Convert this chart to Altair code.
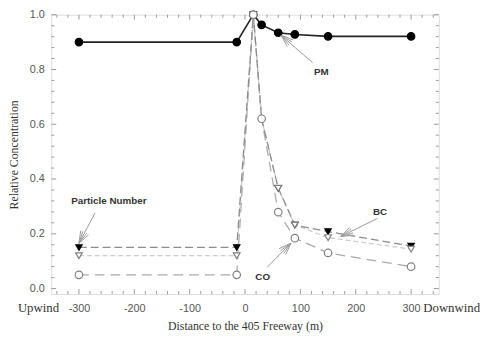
import altair as alt
import pandas as pd
import math

# ---- data ----
x_pos = [-300, -15, 15, 30, 60, 90, 150, 300]
pm = [0.90, 0.90, 1.0, 0.963, 0.934, 0.928, 0.921, 0.921]
pn = [0.15, 0.15, 1.0, 0.62, 0.366, 0.232, 0.208, 0.155]
bc = [0.12, 0.12, 1.0, 0.62, 0.366, 0.232, 0.186, 0.144]
co = [0.05, 0.05, 1.0, 0.62, 0.279, 0.184, 0.130, 0.080]
pm_mark = [True] * 8
pn_mark = [True, True, True, False, True, True, True, True]
bc_mark = [True, True, True, False, True, True, True, True]
co_mark = [True] * 8

x_labels = [-300, -200, -100, 0, 100, 200, 300]
y_labels = [0.0, 0.2, 0.4, 0.6, 0.8, 1.0]
x_domain = [-350, 350]
y_domain = [-0.02, 1.0]

ann_text = ["PM", "BC", "CO", "Particle Number"]
ann_tx = [138, 244, 32, -246]
ann_ty = [0.79, 0.28, 0.042, 0.32]
arr_x1 = [122, 239, 40, -271]
arr_y1 = [0.825, 0.256, 0.078, 0.276]
arr_x2 = [65, 173, 83, -300]
arr_y2 = [0.925, 0.19, 0.166, 0.165]

W, H = 394, 284
xs = alt.Scale(domain=x_domain, nice=False, zero=False)
ys = alt.Scale(domain=y_domain, nice=False, zero=False)

def px(x):
    return (x - x_domain[0]) / (x_domain[1] - x_domain[0]) * W

def py(y):
    return (y_domain[1] - y) / (y_domain[1] - y_domain[0]) * H

def dx(p):
    return p / W * (x_domain[1] - x_domain[0]) + x_domain[0]

def dy(p):
    return y_domain[1] - p / H * (y_domain[1] - y_domain[0])

def series_df(vals, marks):
    return pd.DataFrame({"x": x_pos, "y": vals, "m": marks})

X = alt.X("x:Q", scale=xs, axis=alt.Axis(
    values=x_labels, labelExpr="'' + datum.value", ticks=False, domain=False, grid=False,
    labelFont="Liberation Sans", labelFontSize=11, labelColor="#555", labelPadding=9,
    title="Distance to the 405 Freeway (m)", titleFont="Liberation Serif", titleFontSize=12,
    titleFontWeight="normal", titleColor="#333", titlePadding=7))
Y = alt.Y("y:Q", scale=ys, axis=alt.Axis(
    values=y_labels, format=".1f", ticks=False, domain=False, grid=False,
    labelFont="Liberation Sans", labelFontSize=11, labelColor="#555", labelPadding=7,
    title="Relative Concentration", titleFont="Liberation Serif", titleFontSize=12,
    titleFontWeight="normal", titleColor="#333", titlePadding=9))

def line(vals, marks, color, dash, width):
    kw = dict(color=color, strokeWidth=width)
    if dash:
        kw["strokeDash"] = dash
    return alt.Chart(series_df(vals, marks)).mark_line(**kw).encode(x=X, y=Y)

def pts(vals, marks, shape, size, fill, stroke):
    return alt.Chart(series_df(vals, marks)).transform_filter("datum.m").mark_point(
        shape=shape, filled=True, size=size, fill=fill, stroke=stroke, strokeWidth=1.2,
        opacity=1).encode(x=alt.X("x:Q", scale=xs), y=alt.Y("y:Q", scale=ys))

layers = [
    line(co, co_mark, "#aaaaaa", [10, 6], 1.3),
    line(bc, bc_mark, "#cccccc", [5, 3], 1.3),
    line(pn, pn_mark, "#8c8c8c", [8, 4], 1.3),
    line(pm, pm_mark, "#222222", None, 1.6),
    pts(pn, pn_mark, "triangle-down", 42, "#000", "#000"),
    pts(bc, bc_mark, "triangle-down", 46, "#fff", "#808080"),
    pts(pm, pm_mark, "circle", 58, "#000", "#000"),
    pts(co, co_mark, "circle", 58, "#fff", "#808080"),
]

# ---- frame ticks (inside) ----
def tick_rows():
    rows = []
    for i in range(-17, 18):
        v = i * 20
        major = v in x_labels
        L = 5 if major else 3
        rows.append(dict(x=v, y=y_domain[0], x2=v, y2=dy(py(y_domain[0]) - L)))
        rows.append(dict(x=v, y=y_domain[1], x2=v, y2=dy(py(y_domain[1]) + L)))
    for i in range(0, 26):
        v = round(i * 0.04, 2)
        major = abs(v / 0.2 - round(v / 0.2)) < 1e-6
        L = 5 if major else 3
        rows.append(dict(x=x_domain[0], y=v, x2=dx(px(x_domain[0]) + L), y2=v))
        rows.append(dict(x=x_domain[1], y=v, x2=dx(px(x_domain[1]) - L), y2=v))
    return pd.DataFrame(rows)

ticks = alt.Chart(tick_rows()).mark_rule(color="#999", strokeWidth=1).encode(
    x=alt.X("x:Q", scale=xs), y=alt.Y("y:Q", scale=ys), x2="x2:Q", y2="y2:Q")

# ---- arrows ----
arows = []
for x1, y1, x2, y2 in zip(arr_x1, arr_y1, arr_x2, arr_y2):
    arows.append(dict(x=x1, y=y1, x2=x2, y2=y2))
    sx, sy, ex, ey = px(x1), py(y1), px(x2), py(y2)
    ang = math.atan2(ey - sy, ex - sx)
    for da in (-0.35, 0.35, -0.17, 0.17):
        a = ang + math.pi + da
        bx, by = ex + 13 * math.cos(a), ey + 13 * math.sin(a)
        arows.append(dict(x=x2, y=y2, x2=dx(bx), y2=dy(by)))
arrows = alt.Chart(pd.DataFrame(arows)).mark_rule(color="#999", strokeWidth=1).encode(
    x=alt.X("x:Q", scale=xs), y=alt.Y("y:Q", scale=ys), x2="x2:Q", y2="y2:Q")

labels = alt.Chart(pd.DataFrame({"t": ann_text, "x": ann_tx, "y": ann_ty})).mark_text(
    font="Liberation Sans", fontSize=10, fontWeight="bold", color="#333").encode(
    x=alt.X("x:Q", scale=xs), y=alt.Y("y:Q", scale=ys), text="t:N")

side_text = ["Upwind", "Downwind"]
side_x = [-336, 322]
side_y = [-0.072, -0.072]
up = alt.Chart(pd.DataFrame({"t": side_text[:1], "x": side_x[:1], "y": side_y[:1]})).mark_text(
    font="Liberation Serif", fontSize=13, color="#333", align="right", baseline="middle").encode(
    x=alt.X("x:Q", scale=xs), y=alt.Y("y:Q", scale=ys), text="t:N")
down = alt.Chart(pd.DataFrame({"t": side_text[1:], "x": side_x[1:], "y": side_y[1:]})).mark_text(
    font="Liberation Serif", fontSize=13, color="#333", align="left", baseline="middle").encode(
    x=alt.X("x:Q", scale=xs), y=alt.Y("y:Q", scale=ys), text="t:N")

chart = alt.layer(ticks, *layers, arrows, labels, up, down).properties(
    width=W, height=H,
    autosize=alt.AutoSizeParams(type="none"),
    padding={"left": 44, "top": 4, "right": 47, "bottom": 49},
).configure_view(stroke="#999", strokeWidth=1).configure(background="white")

chart.save("out.html", embed_options={"renderer": "svg", "actions": False})
